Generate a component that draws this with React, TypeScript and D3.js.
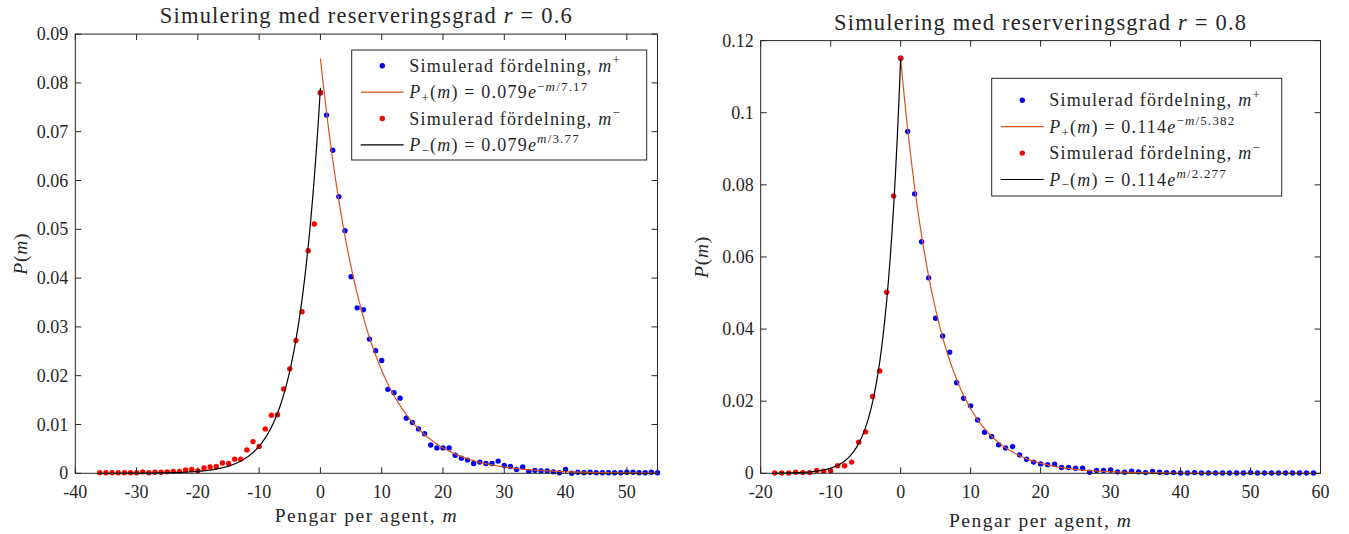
import React from 'react';
import * as d3 from 'd3';

// ---------- DATA ----------
// Left panel (r = 0.6): blue m+ at m = 0,1,2,...; red m- at m = 0,-1,-2,...
const leftBlue = [
  0.078, 0.0734, 0.0662, 0.0567, 0.0497, 0.0403, 0.0339, 0.0335, 0.0275, 0.0251,
  0.0231, 0.0172, 0.0165, 0.0154, 0.0113, 0.0104, 0.0091, 0.0081, 0.0058, 0.0052,
  0.0052, 0.0052, 0.0037, 0.0031, 0.0027, 0.002, 0.0023, 0.002, 0.002, 0.0025,
  0.0016, 0.0014, 0.0008, 0.0013, 0.0004, 0.0006, 0.0005, 0.0005, 0.0003, 0.0001,
  0.0008, 0.0, 0.0002, 0.0001, 0.0002, 0.0001, 0.0001, 0.0001, 0.0001, 0.0001,
  0.0002, 0.0002, 0.0001, 0.0001, 0.0002, 0.0001,
];
const leftRed = [
  0.078, 0.0511, 0.0456, 0.0331, 0.0272, 0.0214, 0.0173, 0.012, 0.0119, 0.0091,
  0.0055, 0.0065, 0.0048, 0.0029, 0.0029, 0.002, 0.0021, 0.0014, 0.0013, 0.0011,
  0.0005, 0.0008, 0.0007, 0.0004, 0.0004, 0.0003, 0.0002, 0.0002, 0.0001, 0.0003,
  0.0001, 0.0001, 0.0001, 0.0001, 0.0001, 0.0001, 0.0001,
];
// Right panel (r = 0.8)
const rightBlue = [
  0.1151, 0.0948, 0.0775, 0.0642, 0.0542, 0.043, 0.0381, 0.0336, 0.0251, 0.0208,
  0.0187, 0.0148, 0.0114, 0.0102, 0.0079, 0.007, 0.0074, 0.0051, 0.0039, 0.0031,
  0.0026, 0.0024, 0.0025, 0.0016, 0.0016, 0.0014, 0.0014, 0.0003, 0.0008, 0.0008,
  0.0009, 0.0004, 0.0003, 0.0006, 0.0004, 0.0002, 0.0005, 0.0003, 0.0002, 0.0002,
  0.0001, 0.0001, 0.0002, 0.0001, 0.0001, 0.0001, 0.0001, 0.0001, 0.0001, 0.0001,
  0.0002, 0.0001, 0.0001, 0.0001, 0.0001, 0.0001, 0.0001, 0.0001, 0.0001, 0.0001,
];
const rightRed = [
  0.1151, 0.0769, 0.0502, 0.0284, 0.0213, 0.0115, 0.0086, 0.0031, 0.0021, 0.0021,
  0.0007, 0.0006, 0.0008, 0.0002, 0.0002, 0.0003, 0.0001, 0.0001, 0.0001,
];

// Fitted curves: [amplitude, scale, mFrom, mTo]
const leftPlusFit = [0.085, 7.17, 0, 55];
const leftMinusFit = [0.079, 3.77, -36, 0];
const rightPlusFit = [0.115, 5.382, 0, 59];
const rightMinusFit = [0.115, 2.277, -18, 0];

const leftXTicks = [-40, -30, -20, -10, 0, 10, 20, 30, 40, 50];
const leftYTicks = [0, 0.01, 0.02, 0.03, 0.04, 0.05, 0.06, 0.07, 0.08, 0.09];
const rightXTicks = [-20, -10, 0, 10, 20, 30, 40, 50, 60];
const rightYTicks = [0, 0.02, 0.04, 0.06, 0.08, 0.1, 0.12];

const leftLegend = ['0.079', '7.17', '3.77'];
const rightLegend = ['0.114', '5.382', '2.277'];

// ---------- STYLE ----------
const FONT = '"Liberation Serif", "DejaVu Serif", serif';
const AX = '#262626';
const BLUE = '#0000ff';
const RED = '#ff0000';
const ORANGE = '#d95319';

type Piece = { t: string; i?: boolean; s?: 'sup' | 'sub' };

function MathText({ x, y, pieces, size, anchor = 'start', transform, ls = 0 }: any) {
  let cur = 0;
  return (
    <text x={x} y={y} fontSize={size} textAnchor={anchor} fill={AX} fontFamily={FONT} transform={transform}
      letterSpacing={ls}>
      {pieces.map((p: Piece, k: number) => {
        const target = p.s === 'sup' ? -0.42 * size : p.s === 'sub' ? 0.22 * size : 0;
        const dy = target - cur;
        cur = target;
        return (
          <tspan key={k} dy={dy} fontStyle={p.i ? 'italic' : 'normal'} fontSize={p.s ? size * 0.72 : size}>
            {p.t}
          </tspan>
        );
      })}
    </text>
  );
}

function Panel(props: any) {
  const { x0, x1, y0, y1, xDomain, yDomain, xTicks, yTicks, blue, red, plus, minus, title, titleY, legend, lg, xLabelY } = props;
  const x = d3.scaleLinear().domain(xDomain).range([x0, x1]);
  const y = d3.scaleLinear().domain(yDomain).range([y1, y0]);
  const tl = 6;
  const curve = (fit: number[], sign: number) => {
    const [a, s, from, to] = fit;
    const ms = d3.range(from, to + 0.001, 0.25);
    return d3.line<number>().x((m) => x(m)).y((m) => y(a * Math.exp((sign * m) / s)))(ms) || '';
  };
  const cx = (x0 + x1) / 2;
  const cy = (y0 + y1) / 2;
  const fmt = (v: number) => (v === 0 ? '0' : String(+v.toFixed(2)));
  const rows = [0, 1, 2, 3].map((i) => lg.top + lg.first + i * lg.step);
  const tx = lg.x0 + 57.6;
  const LS = 1.2;
  return (
    <g>
      {/* title */}
      <MathText x={cx} y={titleY} size={22.5} anchor="middle" ls={1.2}
        pieces={[{ t: 'Simulering med reserveringsgrad ' }, { t: 'r', i: true }, { t: ' = ' + title }]} />
      {/* blue points */}
      {blue.map((v: number, i: number) => (
        <circle key={'b' + i} cx={x(i)} cy={y(v)} r={2.7} fill={BLUE} />
      ))}
      <path d={curve(plus, -1)} fill="none" stroke={ORANGE} strokeWidth={1.2} />
      {red.map((v: number, i: number) => (
        <circle key={'r' + i} cx={x(-i)} cy={y(v)} r={2.7} fill={RED} />
      ))}
      <path d={curve(minus, 1)} fill="none" stroke="#000" strokeWidth={1.2} />
      {/* axes box */}
      <rect x={x0} y={y0} width={x1 - x0} height={y1 - y0} fill="none" stroke={AX} strokeWidth={1} />
      {xTicks.map((t: number) => (
        <g key={'xt' + t}>
          <line x1={x(t)} x2={x(t)} y1={y1} y2={y1 - tl} stroke={AX} />
          <line x1={x(t)} x2={x(t)} y1={y0} y2={y0 + tl} stroke={AX} />
          <text x={x(t)} y={y1 + 25} fontSize={18} textAnchor="middle" fill={AX} fontFamily={FONT}>{t}</text>
        </g>
      ))}
      {yTicks.map((t: number) => (
        <g key={'yt' + t}>
          <line x1={x0} x2={x0 + tl} y1={y(t)} y2={y(t)} stroke={AX} />
          <line x1={x1} x2={x1 - tl} y1={y(t)} y2={y(t)} stroke={AX} />
          <text x={x0 - 7} y={y(t) + 6} fontSize={18} textAnchor="end" fill={AX} fontFamily={FONT}>{fmt(t)}</text>
        </g>
      ))}
      {/* axis labels */}
      <MathText x={cx} y={xLabelY} size={19.5} anchor="middle" ls={1.5}
        pieces={[{ t: 'Pengar per agent, ' }, { t: 'm', i: true }]} />
      <MathText x={0} y={0} size={19.5} anchor="middle" ls={0.8} transform={`translate(${props.yLabelX},${cy}) rotate(-90)`}
        pieces={[{ t: 'P', i: true }, { t: '(' }, { t: 'm', i: true }, { t: ')' }]} />
      {/* legend */}
      <rect x={lg.x0} y={lg.top} width={lg.x1 - lg.x0} height={lg.h} fill="#fff" stroke={AX} strokeWidth={1} />
      <circle cx={lg.x0 + 30.6} cy={rows[0]} r={2.7} fill={BLUE} />
      <line x1={lg.x0 + 9} x2={lg.x0 + 52} y1={rows[1]} y2={rows[1]} stroke={ORANGE} strokeWidth={1.2} />
      <circle cx={lg.x0 + 30.6} cy={rows[2]} r={2.7} fill={RED} />
      <line x1={lg.x0 + 9} x2={lg.x0 + 52} y1={rows[3]} y2={rows[3]} stroke="#000" strokeWidth={1.2} />
      <MathText x={tx} y={rows[0] + 6} size={18} ls={LS}
        pieces={[{ t: 'Simulerad fördelning, ' }, { t: 'm', i: true }, { t: '+', s: 'sup' }]} />
      <MathText x={tx} y={rows[1] + 6} size={18} ls={LS}
        pieces={[{ t: 'P', i: true }, { t: '+', s: 'sub' }, { t: '(' }, { t: 'm', i: true }, { t: ') = ' + legend[0] },
          { t: 'e', i: true }, { t: '−', s: 'sup' }, { t: 'm', i: true, s: 'sup' }, { t: '/' + legend[1], s: 'sup' }]} />
      <MathText x={tx} y={rows[2] + 6} size={18} ls={LS}
        pieces={[{ t: 'Simulerad fördelning, ' }, { t: 'm', i: true }, { t: '−', s: 'sup' }]} />
      <MathText x={tx} y={rows[3] + 6} size={18} ls={LS}
        pieces={[{ t: 'P', i: true }, { t: '−', s: 'sub' }, { t: '(' }, { t: 'm', i: true }, { t: ') = ' + legend[0] },
          { t: 'e', i: true }, { t: 'm', i: true, s: 'sup' }, { t: '/' + legend[2], s: 'sup' }]} />
    </g>
  );
}

export default function App() {
  return (
    <svg width={1349} height={534} style={{ position: 'absolute', left: 0, top: 0, background: '#fff' }}>
      <rect x={0} y={0} width={1349} height={534} fill="#fff" />
      <Panel x0={75.3} x1={657.5} y0={34.1} y1={473.3} xDomain={[-40, 55]} yDomain={[0, 0.09]}
        xTicks={leftXTicks} yTicks={leftYTicks} blue={leftBlue} red={leftRed}
        plus={leftPlusFit} minus={leftMinusFit} title="0.6" titleY={23} legend={leftLegend}
        lg={{ x0: 351.7, x1: 646.7, top: 50, h: 110, first: 15.7, step: 26.4 }}
        xLabelY={522} yLabelX={27} />
      <Panel x0={760.7} x1={1320.5} y0={40.6} y1={473.3} xDomain={[-20, 60]} yDomain={[0, 0.12]}
        xTicks={rightXTicks} yTicks={rightYTicks} blue={rightBlue} red={rightRed}
        plus={rightPlusFit} minus={rightMinusFit} title="0.8" titleY={30} legend={rightLegend}
        lg={{ x0: 991.7, x1: 1281.7, top: 78.3, h: 117.7, first: 22, step: 26.4 }}
        xLabelY={527} yLabelX={708} />
    </svg>
  );
}
